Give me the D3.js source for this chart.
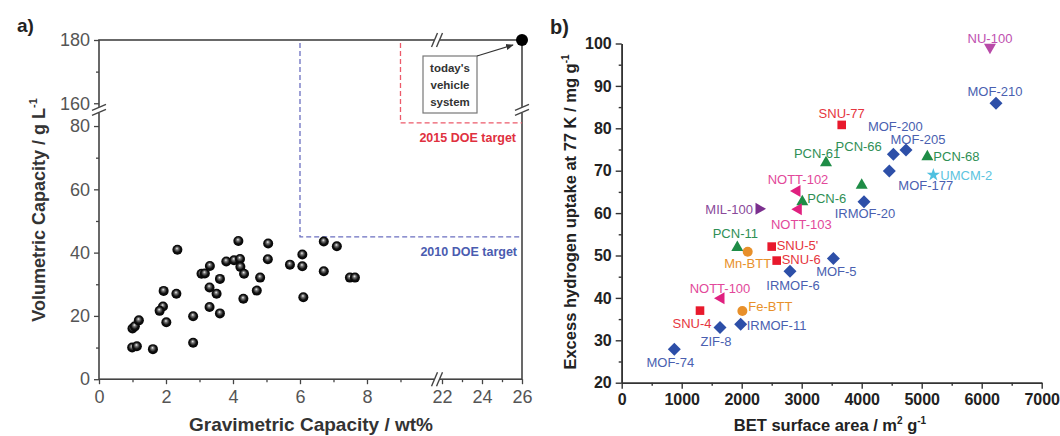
<!DOCTYPE html>
<html lang="en">
<head>
<meta charset="UTF-8">
<title>Hydrogen storage in MOFs</title>
<style>
  body { margin: 0; padding: 0; background: #fff; overflow: hidden; }
  svg { display: block; font-family: "Liberation Sans", Arial, sans-serif; }
</style>
</head>
<body>
<div id="chart"></div>
<script src="https://d3js.org/d3.v7.min.js"></script>
<script>
// ---- panel a data: gravimetric (wt%) vs volumetric (g/L) capacity
const gravimetric = [1.00, 1.07, 1.19, 0.99, 1.13, 1.61, 2.34, 1.93, 2.31, 1.91, 1.81, 2.01, 2.81, 2.81,
  3.06, 3.16, 3.31, 3.30, 3.51, 3.30, 3.61, 3.61, 3.80, 4.03, 4.21, 4.16, 4.22, 4.33, 4.31, 4.81,
  4.71, 5.05, 5.04, 5.70, 6.07, 6.07, 6.10, 6.71, 7.10, 6.71, 7.49, 7.64];
const volumetric = [16.0, 16.7, 18.6, 10.0, 10.4, 9.5, 40.9, 27.9, 27.0, 23.0, 21.6, 18.0, 19.9, 11.5,
  33.3, 33.4, 35.8, 29.0, 27.0, 22.8, 20.8, 31.7, 37.2, 37.6, 38.0, 43.7, 35.5, 33.3, 25.4, 32.1,
  28.0, 42.9, 37.9, 36.2, 39.4, 35.7, 25.9, 43.5, 42.0, 34.1, 32.1, 32.1];
const vehicleSystem = [26, 180];
const target2015 = [9, 81];
const target2010 = [6, 45];
const xTicksLow = [0, 2, 4, 6, 8];
const xTicksHigh = [22, 24, 26];
const yTicksLow = [0, 20, 40, 60, 80];
const yTicksHigh = [160, 180];

// ---- panel b data: BET surface area vs excess H2 uptake at 77 K
const mofNames = ["NU-100", "MOF-210", "SNU-77", "MOF-200", "MOF-205", "PCN-68", "PCN-61", "PCN-66",
  "MOF-177", "UMCM-2", "IRMOF-20", "PCN-6", "NOTT-102", "NOTT-103", "MIL-100", "PCN-11", "Mn-BTT",
  "SNU-5'", "SNU-6", "IRMOF-6", "MOF-5", "NOTT-100", "Fe-BTT", "SNU-4", "IRMOF-11", "ZIF-8", "MOF-74"];
const betArea = [6138, 6238, 3667, 4528, 4738, 5094, 3405, 4000, 4460, 5194, 4038, 3010, 2905, 2927,
  2305, 1927, 2100, 2500, 2583, 2805, 3528, 1638, 2011, 1305, 1983, 1638, 877];
const h2Uptake = [98.9, 85.9, 80.8, 73.9, 74.9, 73.5, 72.1, 66.8, 69.9, 69.0, 62.7, 62.9, 65.2, 60.9,
  61.0, 52.1, 50.9, 52.1, 48.8, 46.3, 49.3, 39.9, 36.9, 37.0, 33.8, 33.0, 27.9];
const mofKind = ["nu", "dia", "sq", "dia", "dia", "tri", "tri", "tri", "dia", "star", "dia", "tri",
  "ltri", "ltri", "mil", "tri", "circ", "sq", "sq", "dia", "dia", "ltri", "circ", "sq", "dia", "dia", "dia"];
const xTicksB = [0, 1000, 2000, 3000, 4000, 5000, 6000, 7000];
const yTicksB = [20, 30, 40, 50, 60, 70, 80, 90, 100];

// label placement for panel b (offset of label from marker, anchor)
const labelPlace = {
  "NU-100": [0, -10, "middle"], "MOF-210": [-1, -12, "middle"], "SNU-77": [0, -12, "middle"],
  "MOF-200": [2, -28, "middle"], "MOF-205": [12, -11, "middle"], "PCN-68": [6, 0, "start"],
  "PCN-61": [-9, -8, "middle"], "PCN-66": [-3, -38, "middle"], "MOF-177": [9, 14, "start"],
  "UMCM-2": [7, 0, "start"], "IRMOF-20": [1, 12, "middle"], "PCN-6": [5, -2, "start"],
  "NOTT-102": [2, -12, "middle"], "NOTT-103": [4, 15, "middle"], "MIL-100": [-7, 0, "end"],
  "PCN-11": [-2, -13, "middle"], "Mn-BTT": [0, 12, "middle"], "SNU-5'": [5, -1, "start"],
  "SNU-6": [5, -1, "start"], "IRMOF-6": [3, 14, "middle"], "MOF-5": [3, 13, "middle"],
  "NOTT-100": [0, -10, "middle"], "Fe-BTT": [6, -5, "start"], "SNU-4": [-8, 13, "middle"],
  "IRMOF-11": [6, 1, "start"], "ZIF-8": [-4, 14, "middle"], "MOF-74": [-4, 13, "middle"]
};

const kindColor = { dia: "#2d4fa8", sq: "#e8192c", tri: "#1e8c46", ltri: "#e0207f", circ: "#e8902a",
  mil: "#7b2f8e", nu: "#b84aa8", star: "#4ec0e0" };
const kindText = { dia: "#4a5fb0", sq: "#e63640", tri: "#2f8f55", ltri: "#e2489a", circ: "#e8902a",
  mil: "#8a4a9a", nu: "#c050b0", star: "#5cc4e0" };

const svg = d3.select("#chart").append("svg").attr("width", 1060).attr("height", 436);

// ================= panel a =================
const xL = d3.scaleLinear().domain([0, 10.09]).range([99, 437]);
const xR = d3.scaleLinear().domain([21.75, 26]).range([437, 522]);
const yL = d3.scaleLinear().domain([0, 84.5]).range([379.2, 111.8]);
const yU = d3.scaleLinear().domain([158.5, 180]).range([108, 40]);
const axisCol = "#444";

const defs = svg.append("defs");
const grad = defs.append("radialGradient").attr("id", "ball")
  .attr("cx", 0.5).attr("cy", 0.5).attr("r", 0.55).attr("fx", 0.45).attr("fy", 0.35);
grad.append("stop").attr("offset", "0%").attr("stop-color", "#f4f4f4");
grad.append("stop").attr("offset", "25%").attr("stop-color", "#777");
grad.append("stop").attr("offset", "60%").attr("stop-color", "#111");
grad.append("stop").attr("offset", "100%").attr("stop-color", "#000");

const a = svg.append("g");

// ticks (d3 axes, domain drawn separately as a frame)
function styleAxis(g, size) {
  g.select(".domain").remove();
  g.selectAll("line").attr("stroke", axisCol).attr("stroke-width", 1.3);
  g.selectAll("text").attr("font-size", size).attr("fill", "#555");
}
a.append("g").attr("transform", "translate(0,379.2)")
  .call(d3.axisBottom(xL).tickValues(xTicksLow).tickSize(5).tickPadding(6).tickFormat(d3.format("d")))
  .call(g => styleAxis(g, 18));
a.append("g").attr("transform", "translate(0,379.2)")
  .call(d3.axisBottom(xR).tickValues(xTicksHigh).tickSize(5).tickPadding(6).tickFormat(d3.format("d")))
  .call(g => styleAxis(g, 18));
a.append("g").attr("transform", "translate(0,379.2)")
  .call(d3.axisBottom(xL).tickValues([1, 3, 5, 7, 9]).tickSize(3).tickFormat(""))
  .call(g => styleAxis(g, 18));
a.append("g").attr("transform", "translate(0,379.2)")
  .call(d3.axisBottom(xR).tickValues([23, 25]).tickSize(3).tickFormat(""))
  .call(g => styleAxis(g, 18));
a.append("g").attr("transform", "translate(99,0)")
  .call(d3.axisLeft(yL).tickValues(yTicksLow).tickSize(5).tickPadding(4).tickFormat(d3.format("d")))
  .call(g => styleAxis(g, 18));
a.append("g").attr("transform", "translate(99,0)")
  .call(d3.axisLeft(yU).tickValues(yTicksHigh).tickSize(5).tickPadding(4).tickFormat(d3.format("d")))
  .call(g => styleAxis(g, 18));
a.append("g").attr("transform", "translate(99,0)")
  .call(d3.axisLeft(yL).tickValues([10, 30, 50, 70]).tickSize(3).tickFormat(""))
  .call(g => styleAxis(g, 18));
a.append("g").attr("transform", "translate(99,0)")
  .call(d3.axisLeft(yU).tickValues([170]).tickSize(3).tickFormat(""))
  .call(g => styleAxis(g, 18));

// frame
a.append("rect").attr("x", xL(0)).attr("y", yU(180))
  .attr("width", xR(26) - xL(0)).attr("height", yL(0) - yU(180))
  .attr("fill", "none").attr("stroke", axisCol).attr("stroke-width", 1.6);

// break marks
function breakMark(cx, cy, vertical) {
  const g = a.append("g").attr("transform", `translate(${cx},${cy})`);
  g.append("rect").attr("x", -3).attr("y", -3).attr("width", 6).attr("height", 6).attr("fill", "#fff");
  if (vertical) { // on a vertical axis
    [-2.5, 2.5].forEach(o => g.append("line").attr("x1", -7).attr("y1", o + 3).attr("x2", 7).attr("y2", o - 3)
      .attr("stroke", axisCol).attr("stroke-width", 1.4));
  } else {
    [-2.5, 2.5].forEach(o => g.append("line").attr("x1", o - 3).attr("y1", 7).attr("x2", o + 3).attr("y2", -7)
      .attr("stroke", axisCol).attr("stroke-width", 1.4));
  }
}
breakMark(xL(0), (yU(158.5) + yL(84.5)) / 2, true);
breakMark(xR(26), (yU(158.5) + yL(84.5)) / 2, true);
breakMark(xR(21.75), yL(0), false);
breakMark(xR(21.75), yU(180), false);

// DOE targets
const dash = "5,3";
a.append("path")
  .attr("d", `M${xL(target2015[0])},${yU(180) + 3}V${yL(target2015[1])}H${xR(26)}`)
  .attr("fill", "none").attr("stroke", "#ec5a6a").attr("stroke-width", 1.3).attr("stroke-dasharray", dash);
a.append("path")
  .attr("d", `M${xL(target2010[0])},${yU(180) + 3}V${yL(target2010[1])}H${xR(26)}`)
  .attr("fill", "none").attr("stroke", "#6b6fc0").attr("stroke-width", 1.3).attr("stroke-dasharray", dash);
a.append("text").attr("x", xR(26) - 6).attr("y", yL(target2015[1]) + 19)
  .attr("text-anchor", "end").attr("font-size", 12.5).attr("font-weight", "bold").attr("fill", "#e03040")
  .text("2015 DOE target");
a.append("text").attr("x", xR(26) - 5).attr("y", yL(target2010[1]) + 19)
  .attr("text-anchor", "end").attr("font-size", 12.5).attr("font-weight", "bold").attr("fill", "#4a5cb0")
  .text("2010 DOE target");

// data spheres
a.append("g").selectAll("circle").data(gravimetric).join("circle")
  .attr("cx", d => xL(d)).attr("cy", (d, i) => yL(volumetric[i])).attr("r", 5)
  .attr("fill", "url(#ball)");

// today's vehicle system
const vx = xR(vehicleSystem[0]), vy = yU(vehicleSystem[1]);
defs.append("marker").attr("id", "arr").attr("viewBox", "0 0 10 10").attr("refX", 9).attr("refY", 5)
  .attr("markerWidth", 7).attr("markerHeight", 7).attr("orient", "auto")
  .append("path").attr("d", "M0,1L10,5L0,9z").attr("fill", "#333");
a.append("rect").attr("x", vx - 99).attr("y", vy + 16).attr("width", 54).attr("height", 57)
  .attr("fill", "#fff").attr("stroke", "#777").attr("stroke-width", 1.2);
["today's", "vehicle", "system"].forEach((t, i) => {
  a.append("text").attr("x", vx - 72).attr("y", vy + 32 + i * 17).attr("text-anchor", "middle")
    .attr("font-size", 11.5).attr("font-weight", "bold").attr("fill", "#333").text(t);
});
a.append("line").attr("x1", vx - 45).attr("y1", vy + 16).attr("x2", vx - 9).attr("y2", vy + 5)
  .attr("stroke", "#333").attr("stroke-width", 1.1).attr("marker-end", "url(#arr)");
a.append("circle").attr("cx", vx).attr("cy", vy).attr("r", 6).attr("fill", "#000");

// axis titles
a.append("text").attr("x", 17).attr("y", 32).attr("font-size", 19).attr("font-weight", "bold")
  .attr("fill", "#222").text("a)");
a.append("text").attr("transform", "translate(45,210) rotate(-90)").attr("text-anchor", "middle")
  .attr("font-size", 18).attr("font-weight", "bold").attr("fill", "#333")
  .call(t => {
    t.append("tspan").text("Volumetric Capacity / g L");
    t.append("tspan").attr("font-size", 11).attr("dy", -8).text("-1");
  });
a.append("text").attr("x", 311).attr("y", 431).attr("text-anchor", "middle")
  .attr("font-size", 19).attr("font-weight", "bold").attr("fill", "#333")
  .text("Gravimetric Capacity / wt%");

// ================= panel b =================
const xB = d3.scaleLinear().domain([0, 7000]).range([621.7, 1041.7]);
const yB = d3.scaleLinear().domain([20, 100]).range([382.7, 43.5]);
const b = svg.append("g");

function styleB(g) {
  g.selectAll("line").attr("stroke", "#333").attr("stroke-width", 1.4);
  g.select(".domain").attr("stroke", "#333").attr("stroke-width", 1.6);
  g.selectAll("text").attr("font-size", 16).attr("font-weight", "bold").attr("fill", "#222");
}
b.append("g").attr("transform", `translate(0,${yB(20)})`)
  .call(d3.axisBottom(xB).tickValues(d3.range(500, 7000, 1000)).tickSize(3).tickFormat("").tickSizeOuter(0))
  .call(styleB);
b.append("g").attr("transform", `translate(0,${yB(20)})`)
  .call(d3.axisBottom(xB).tickValues(xTicksB).tickSize(6).tickPadding(5).tickSizeOuter(0)
    .tickFormat(d3.format("d")))
  .call(styleB);
b.append("g").attr("transform", `translate(${xB(0)},0)`)
  .call(d3.axisLeft(yB).tickValues(d3.range(25, 100, 10)).tickSize(3).tickFormat("").tickSizeOuter(0))
  .call(styleB);
b.append("g").attr("transform", `translate(${xB(0)},0)`)
  .call(d3.axisLeft(yB).tickValues(yTicksB).tickSize(6).tickPadding(4).tickSizeOuter(0)
    .tickFormat(d3.format("d")))
  .call(styleB);

// marker shapes
function shapePath(kind) {
  switch (kind) {
    case "dia": return "M0,-6.5L6.5,0L0,6.5L-6.5,0Z";
    case "sq": return "M-4.3,-4.3H4.3V4.3H-4.3Z";
    case "tri": return "M0,-6L6,4.5H-6Z";
    case "ltri": return "M-6,0L4.5,-6V6Z";
    case "mil": return "M6,0L-4.5,-6V6Z";
    case "nu": return "M0,6L6,-4.5H-6Z";
    case "circ": return "M5,0A5,5 0 1,1 -5,0A5,5 0 1,1 5,0Z";
    case "star": return d3.symbol(d3.symbolStar, 55)();
  }
}
const pts = b.append("g").selectAll("g").data(mofNames).join("g")
  .attr("transform", (d, i) => `translate(${xB(betArea[i])},${yB(h2Uptake[i])})`);
pts.append("path").attr("d", (d, i) => shapePath(mofKind[i])).attr("fill", (d, i) => kindColor[mofKind[i]]);
pts.append("text")
  .attr("x", d => labelPlace[d][0]).attr("y", d => labelPlace[d][1]).attr("dy", "0.36em")
  .attr("text-anchor", d => labelPlace[d][2])
  .attr("font-size", 13).attr("fill", (d, i) => kindText[mofKind[i]]).text(d => d);

b.append("text").attr("x", 550).attr("y", 34).attr("font-size", 20).attr("font-weight", "bold")
  .attr("fill", "#222").text("b)");
b.append("text").attr("transform", "translate(576,212) rotate(-90)").attr("text-anchor", "middle")
  .attr("font-size", 16.5).attr("font-weight", "bold").attr("fill", "#222")
  .call(t => {
    t.append("tspan").text("Excess hydrogen uptake at 77 K / mg g");
    t.append("tspan").attr("font-size", 10).attr("dy", -7).text("-1");
  });
b.append("text").attr("x", 830).attr("y", 431).attr("text-anchor", "middle")
  .attr("font-size", 16.5).attr("font-weight", "bold").attr("fill", "#222")
  .call(t => {
    t.append("tspan").text("BET surface area / m");
    t.append("tspan").attr("font-size", 10).attr("dy", -7).text("2");
    t.append("tspan").attr("dy", 7).text(" g");
    t.append("tspan").attr("font-size", 10).attr("dy", -7).text("-1");
  });
</script>
</body>
</html>
